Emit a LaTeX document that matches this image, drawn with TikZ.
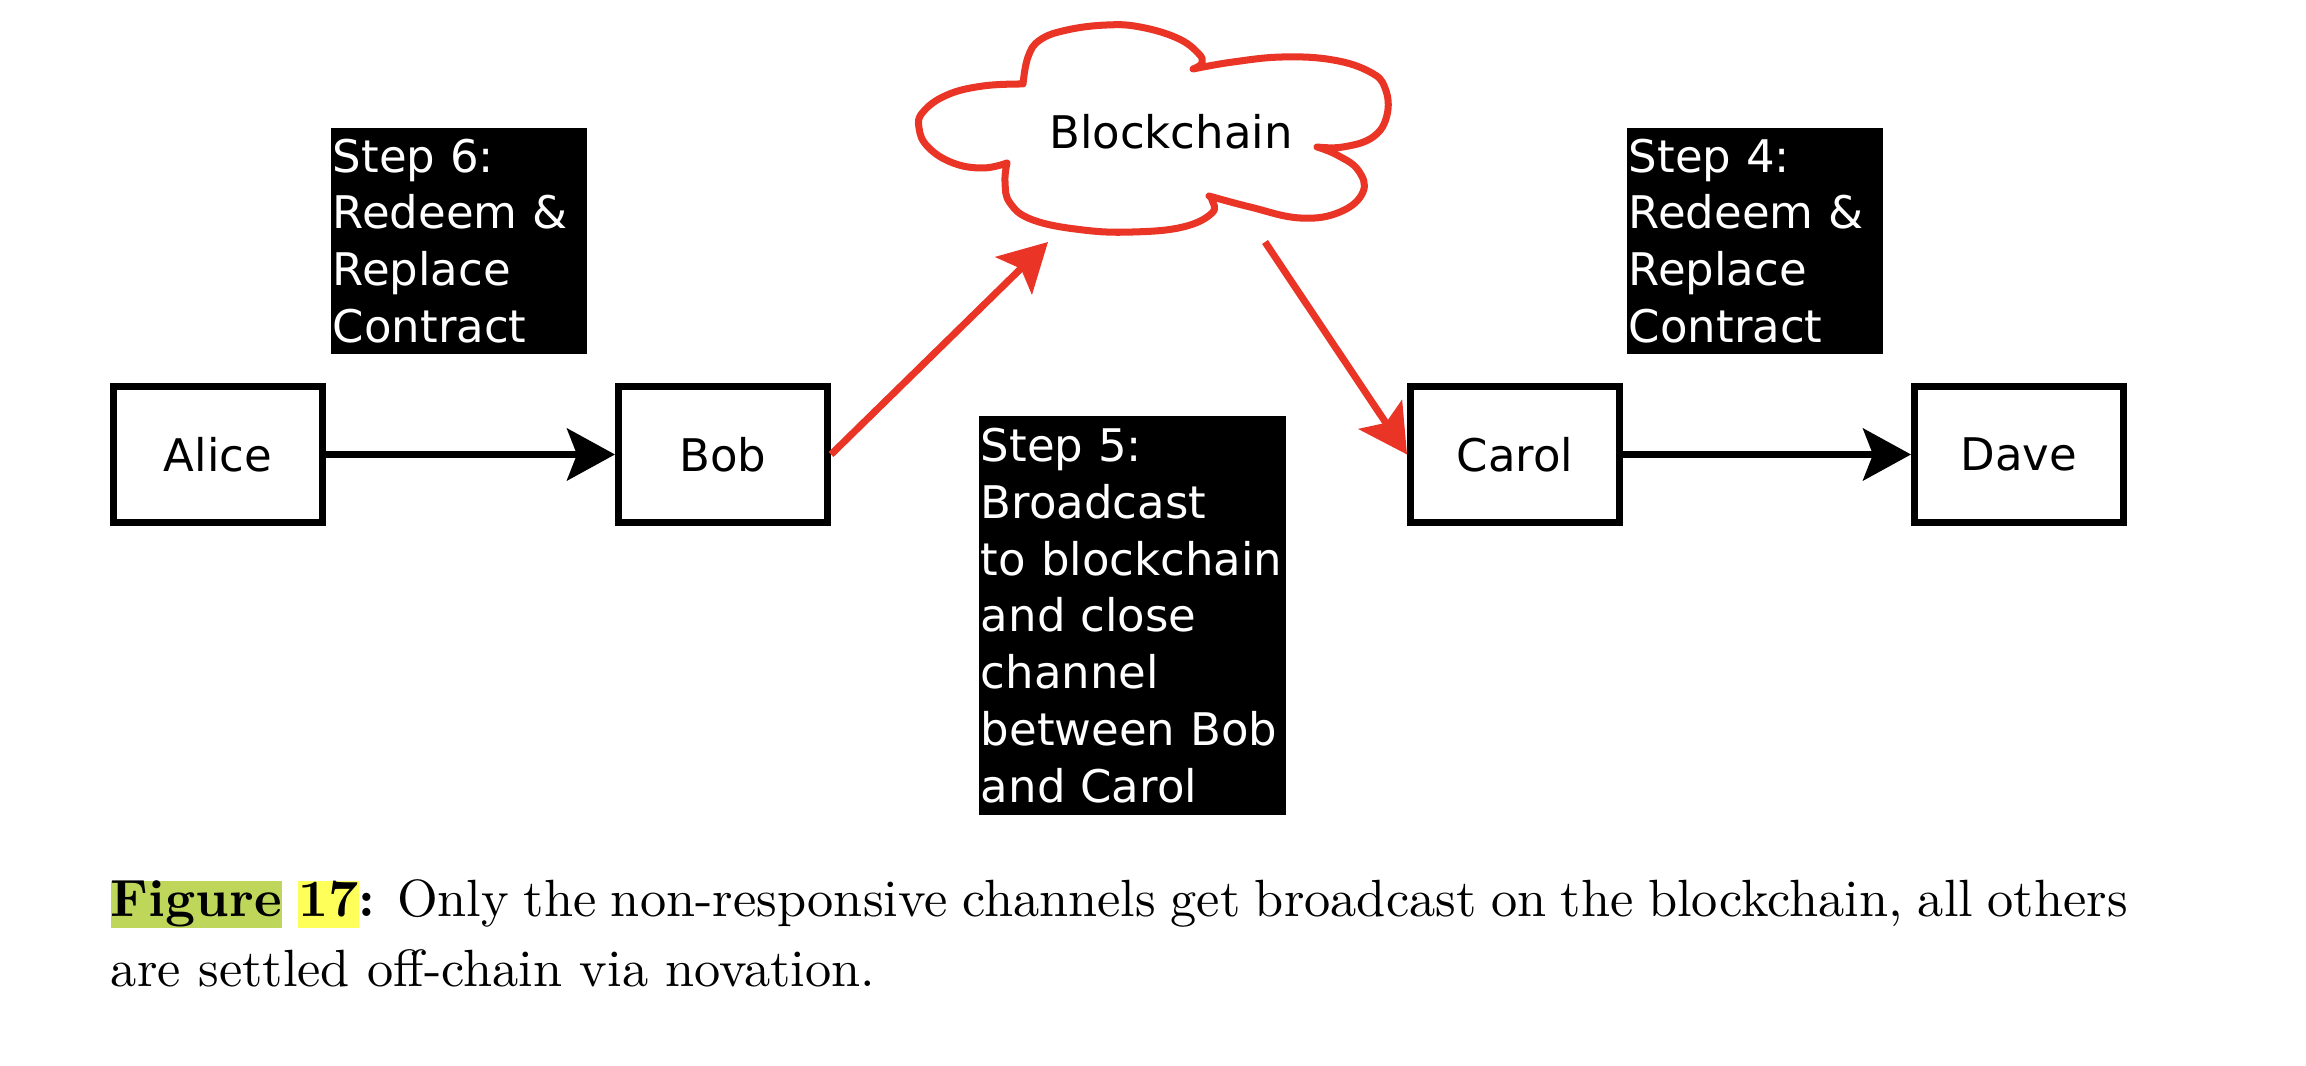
\documentclass[tikz,border=0pt]{standalone}
\usepackage{fontspec}
\usepackage{xcolor}
\usepackage{tikz}
\usetikzlibrary{arrows.meta}
\newfontfamily\diagfont{DejaVu Sans}
\definecolor{chainred}{RGB}{233,52,38}
\definecolor{hlgreen}{RGB}{190,215,90}
\definecolor{hlyellow}{RGB}{255,255,90}
\newcommand{\dfont}{\diagfont\fontsize{9.1}{11.5}\selectfont}
\newcommand{\hlmark}[2]{{\setlength{\fboxsep}{0pt}\colorbox{#1}{\vphantom{Fg}#2}}}
\tikzset{
  party/.style={draw, line width=1.42pt, minimum width=42.3pt, minimum height=27.5pt, font=\dfont},
  stepnote/.style={fill=black, text=white, font=\dfont, align=left, inner xsep=0.4pt, inner ysep=0pt, anchor=north west},
  flow/.style={line width=1.42pt, -{Stealth[length=9.7pt, width=10.5pt, inset=2pt]}},
  bcast/.style={flow, draw=chainred},
  cloudline/.style={draw=chainred, line width=1.42pt, line join=round, line cap=round}
}

\begin{document}
\begin{tikzpicture}[x=0.2024pt, y=-0.2024pt]
  \useasboundingbox (0,0) rectangle (2306,1066);
  % parties
  \node[party] (alice) at (218,454.5) {Alice};
  \node[party] (bob)   at (723,454.5) {Bob};
  \node[party] (carol) at (1515,454.5) {Carol};
  \node[party] (dave)  at (2019,454.5) {Dave};
  % step notes
  \node[stepnote, text width=51.0pt, minimum height=45.7pt] (stepsix) at (330,127)
    {Step 6:\\Redeem \&\\Replace\\Contract};
  \node[stepnote, text width=51.0pt, minimum height=45.7pt] (stepfour) at (1626,127)
    {Step 4:\\Redeem \&\\Replace\\Contract};
  \node[stepnote, text width=61.3pt, minimum height=80.8pt] (stepfive) at (978,415)
    {Step 5:\\Broadcast\\to blockchain\\and close\\channel\\between Bob\\and Carol};
  % blockchain cloud
  \node[font=\dfont] (chain) at (1171,132) {Blockchain};
  \draw[cloudline]
    plot[smooth, tension=0.7] coordinates {(1023,84) (983,86) (947,95) (923,112) (919,128) (928,147) (953,163) (983,168) (1007,163)}
    plot[smooth, tension=0.7] coordinates {(1007,163) (1005,182) (1010,203) (1033,220) (1083,230) (1133,232) (1183,227) (1212,213) (1212,200) (1209,196)}
    plot[smooth, tension=0.7] coordinates {(1209,196) (1250,207) (1300,218) (1340,212) (1363,192) (1358,170) (1337,155) (1317,147)}
    plot[smooth, tension=0.7] coordinates {(1317,147) (1343,147) (1373,137) (1387,115) (1385,88) (1370,72) (1333,60) (1283,57) (1233,62) (1193,69)}
    plot[smooth, tension=0.7] coordinates {(1193,69) (1202,63) (1198,53) (1177,38) (1140,27) (1107,25) (1067,30) (1040,40) (1028,57) (1023,84)};
  \coordinate (cloudin)  at (1048,242);
  \coordinate (cloudout) at (1265,242);
  % connectors
  \draw[flow] (alice.east) -- (bob.west);
  \draw[flow] (carol.east) -- (dave.west);
  \draw[bcast] (bob.east) -- (cloudin);
  \draw[bcast] (cloudout) -- (carol.west);
  % caption
  \node[anchor=base west, text width=408.2pt, align=justify, inner sep=0pt,
        font=\fontsize{10.6}{14}\selectfont] (caption) at (110,917)
    {\textbf{\hlmark{hlgreen}{Figure} \hlmark{hlyellow}{17}:} Only the non-responsive channels get broadcast on the blockchain, all others\linebreak are settled off-chain via novation.};
\end{tikzpicture}
\end{document}
